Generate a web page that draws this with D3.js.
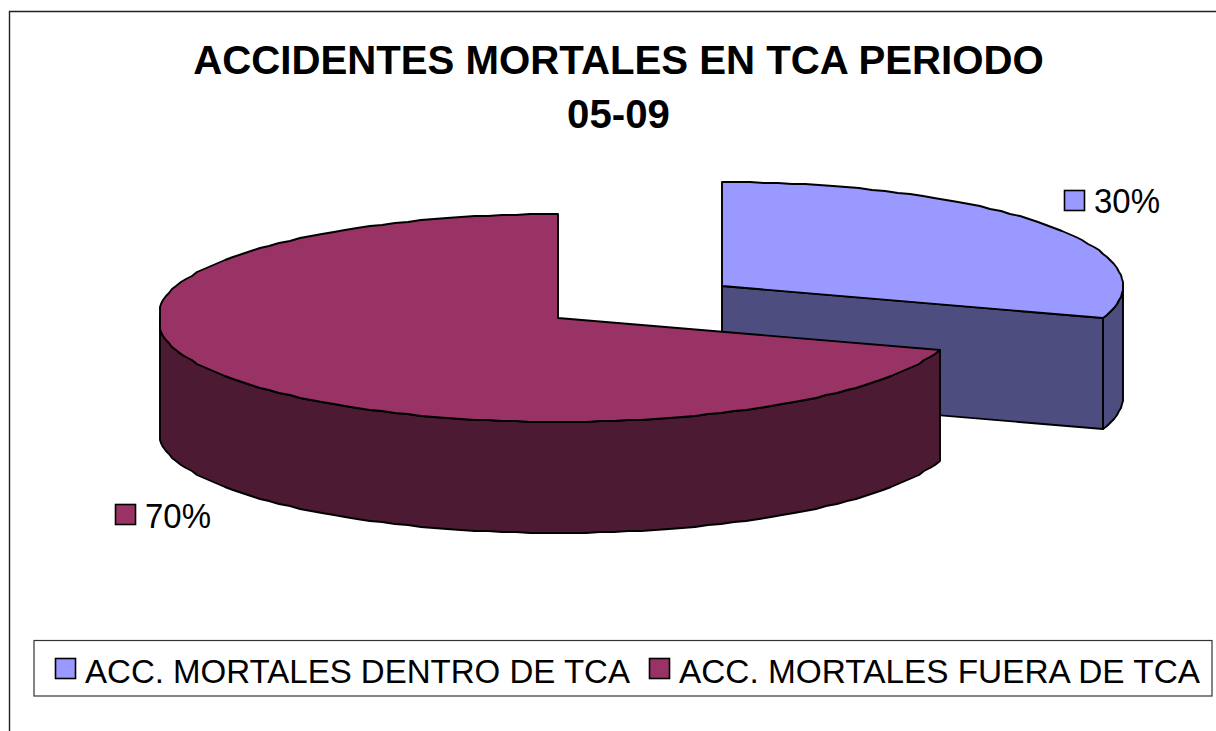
<!DOCTYPE html>
<html><head><meta charset="utf-8">
<style>html,body{margin:0;padding:0;background:#fff}svg{display:block}text{font-family:"Liberation Sans",Arial,sans-serif;fill:#000}</style>
<script src="https://cdnjs.cloudflare.com/ajax/libs/d3/7.8.5/d3.min.js"></script>
</head><body><svg id="c" width="1216" height="731"></svg>
<script>
const categories=["ACC. MORTALES DENTRO DE TCA","ACC. MORTALES FUERA DE TCA"];
const values=[30,70];
const labels=["30%","70%"];
const titleLines=["ACCIDENTES MORTALES EN TCA PERIODO","05-09"];
const topColors=["#9999ff","#993366"];
const sideColors=["#4d4d80","#4d1a33"];

const svg=d3.select("#c");
svg.append("path").attr("d","M9.5,731V11.5H1216").attr("fill","none").attr("stroke","#222").attr("stroke-width",1.4);

svg.selectAll("text.title").data(titleLines).join("text").attr("class","title")
  .attr("x",618.5).attr("y",(d,i)=>[74,128][i]).attr("text-anchor","middle")
  .attr("font-weight","bold").attr("font-size",40.2).text(d=>d);

const arcs=d3.pie().sort(null)(values);
const geom=[{cx:722,cy:286,rx:401,ry:104,depth:111,stretch:1.0},{cx:558,cy:318,rx:398,ry:104,depth:111,stretch:1.008}];
const pt=(g,a,dz=0)=>{
  const s=Math.sin(a),x=Math.sign(s)*Math.min(1,Math.abs(s)*g.stretch);
  return [Math.round(g.cx+g.rx*x),Math.round(g.cy-g.ry*Math.cos(a))+dz];
};
const line=d3.line();
const steps=(a,b)=>{const n=Math.max(2,Math.round((b-a)/(Math.PI/90)));return d3.range(n+1).map(i=>a+(b-a)*i/n);};

function drawSlice(arc,i){
  const g=geom[i],s=svg.append("g");
  const a0=arc.startAngle,a1=arc.endAngle;
  const stroke=el=>el.attr("stroke","#000").attr("stroke-width",1.9).attr("stroke-linejoin","round");
  if(i===0){
    const c=[g.cx,g.cy],e=pt(g,a1);
    stroke(s.append("path").attr("fill",sideColors[i])
      .attr("d",line([c,e,[e[0],e[1]+g.depth],[c[0],c[1]+g.depth]])+"Z"));
  }
  const vis0=Math.max(a0,Math.PI/2),vis1=Math.min(a1,3*Math.PI/2);
  const rim=steps(vis0,vis1);
  stroke(s.append("path").attr("fill",sideColors[i])
    .attr("d",line(rim.map(a=>pt(g,a)).concat(rim.slice().reverse().map(a=>pt(g,a,g.depth))))+"Z"));
  stroke(s.append("path").attr("fill",topColors[i])
    .attr("d",line([[g.cx,g.cy]].concat(steps(a0,a1).map(a=>pt(g,a))))+"Z"));
}
arcs.forEach(drawSlice);

const dl=[{x:1064.5,y:190.5,tx:1094,ty:213},{x:115.5,y:504.5,tx:145,ty:528}];
labels.forEach((t,i)=>{
  svg.append("rect").attr("x",dl[i].x).attr("y",dl[i].y).attr("width",20).attr("height",20)
    .attr("fill",topColors[i]).attr("stroke","#000").attr("stroke-width",1.6);
  svg.append("text").attr("x",dl[i].tx).attr("y",dl[i].ty).attr("font-size",35)
    .attr("textLength",66).attr("lengthAdjust","spacingAndGlyphs").text(t);
});

svg.append("rect").attr("x",34).attr("y",640.5).attr("width",1178).attr("height",55.5)
  .attr("fill","#fff").attr("stroke","#333").attr("stroke-width",1.2);
const lg=[{x:44,tx:85,end:630},{x:638,tx:679,end:1200}];
categories.forEach((t,i)=>{
  svg.append("rect").attr("x",lg[i].x+11.5).attr("y",658.5).attr("width",20).attr("height",20)
    .attr("fill",topColors[i]).attr("stroke","#000").attr("stroke-width",1.6);
  svg.append("text").attr("x",lg[i].tx).attr("y",683).attr("font-size",34)
    .attr("textLength",lg[i].end-lg[i].tx).attr("lengthAdjust","spacingAndGlyphs").text(t);
});
</script></body></html>
